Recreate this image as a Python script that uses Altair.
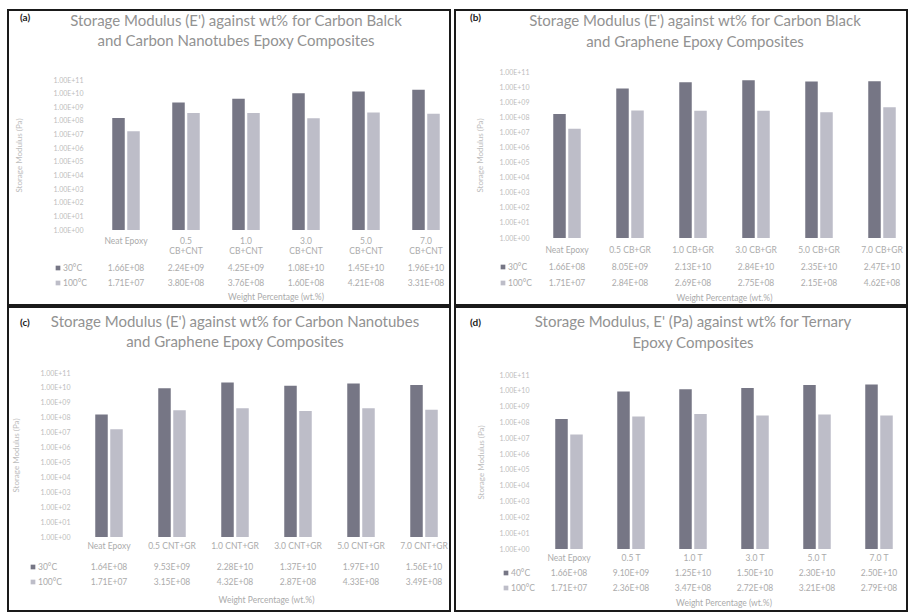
import altair as alt
import pandas as pd

# ---- data -------------------------------------------------------------
tags = ["(a)", "(b)", "(c)", "(d)"]

titles = [
    ["Storage Modulus (E') against wt% for Carbon Balck", "and Carbon Nanotubes Epoxy Composites"],
    ["Storage Modulus (E') against wt% for Carbon Black", "and Graphene Epoxy Composites"],
    ["Storage Modulus (E') against wt% for Carbon Nanotubes", "and Graphene Epoxy Composites"],
    ["Storage Modulus, E' (Pa) against wt% for Ternary", "Epoxy Composites"],
]

cats_a = ["Neat Epoxy", "0.5\nCB+CNT", "1.0\nCB+CNT", "3.0\nCB+CNT", "5.0\nCB+CNT", "7.0\nCB+CNT"]
cats_b = ["Neat Epoxy", "0.5 CB+GR", "1.0 CB+GR", "3.0 CB+GR", "5.0 CB+GR", "7.0 CB+GR"]
cats_c = ["Neat Epoxy", "0.5 CNT+GR", "1.0 CNT+GR", "3.0 CNT+GR", "5.0 CNT+GR", "7.0 CNT+GR"]
cats_d = ["Neat Epoxy", "0.5 T", "1.0 T", "3.0 T", "5.0 T", "7.0 T"]

temps_abc = ["30°C", "100°C"]
temps_d = ["40°C", "100°C"]

low_a = [1.66e8, 2.24e9, 4.25e9, 1.08e10, 1.45e10, 1.96e10]
high_a = [1.71e7, 3.80e8, 3.76e8, 1.60e8, 4.21e8, 3.31e8]

low_b = [1.66e8, 8.05e9, 2.13e10, 2.84e10, 2.35e10, 2.47e10]
high_b = [1.71e7, 2.84e8, 2.69e8, 2.75e8, 2.15e8, 4.62e8]

low_c = [1.64e8, 9.53e9, 2.28e10, 1.37e10, 1.97e10, 1.56e10]
high_c = [1.71e7, 3.15e8, 4.32e8, 2.87e8, 4.33e8, 3.49e8]

low_d = [1.66e8, 9.10e9, 1.25e10, 1.50e10, 2.30e10, 2.50e10]
high_d = [1.71e7, 2.36e8, 3.47e8, 2.72e8, 3.21e8, 2.79e8]

y_ticks = [10.0 ** k for k in range(12)]

# ---- style ------------------------------------------------------------
FONT = "Lato"
TITLE_GREY = "#929292"
TEXT_GREY = "#ababab"
LABEL_GREY = "#bdbdbd"
BAR_COLORS = ["#767685", "#bdbdc8"]
BAR_W = 12.5          # width of each bar in a pair
BAR_SHIFT = 7.5       # offset of each bar from the category centre

# Panel geometry in page pixels.  Every panel's view fills its framed box,
# and the bars / axes are placed inside it through explicit scale ranges.
#   c0, step : centre of the first category and category step
#   ytop, ybot : pixel rows of 1E+11 and 1E+00
layouts = [
    dict(box=(8, 10, 450, 305), c0=126, step=60, ytop=80, ybot=230,
         tag=(20, 18), tcx=236, ty=(21, 41), ytx=23, ylr=83, cat=236,
         rows=(268, 283), key=58, xty=297),
    dict(box=(455, 10, 907, 305), c0=567, step=63, ytop=72, ybot=238,
         tag=(470, 18), tcx=695, ty=(21, 42), ytx=484, ylr=529, cat=245,
         rows=(267, 283), key=503, xty=298),
    dict(box=(8, 307, 450, 611), c0=109, step=63, ytop=373, ybot=537,
         tag=(20, 323), tcx=235, ty=(322, 342), ytx=20, ylr=70, cat=541,
         rows=(567, 582), key=33, xty=600),
    dict(box=(455, 307, 907, 611), c0=569, step=62, ytop=375, ybot=549,
         tag=(470, 323), tcx=693, ty=(322, 343), ytx=485, ylr=529, cat=553,
         rows=(573, 588), key=506, xty=603),
]

LOG_LABEL = (
    "format(datum.value / pow(10, round(log(datum.value) / LN10)), '.2f') + 'E+' + "
    "(round(log(datum.value) / LN10) < 10 ? '0' : '') + round(log(datum.value) / LN10)"
)


def panel(tag, title_lines, cats, temps, low, high, L):
    rows = []
    for series, vals in zip(temps, [low, high]):
        for c, v in zip(cats, vals):
            rows.append({"category": c, "series": series, "value": v, "label": f"{v:.2E}"})
    df = pd.DataFrame(rows)

    bl, bt, br, bb = L["box"]
    x0, y0 = bl + 2, bt + 2           # view origin just inside the frame
    w, h = br - bl - 4, bb - bt - 4

    # point-like band range: category centres at c0, c0 + step, ...
    pi = 0.5
    r0 = L["c0"] - L["step"] * (1 - pi) / 2 - x0
    r1 = r0 + L["step"] * (6 - pi)
    ybot, ytop = L["ybot"] - y0, L["ytop"] - y0

    one = pd.DataFrame({"k": [0]})
    color = alt.Color("series:N", scale=alt.Scale(domain=temps, range=BAR_COLORS), legend=None)

    xenc = alt.X(
        "category:N", sort=cats,
        scale=alt.Scale(range=[r0, r1], paddingInner=pi, paddingOuter=0),
        axis=alt.Axis(title=None, labelAngle=0, labelExpr="split(datum.label, '\\n')",
                      offset=ybot - h, labelPadding=L["cat"] - L["ybot"],
                      labelFontSize=8.5, labelColor=TEXT_GREY, labelFont=FONT,
                      labelBaseline="top"),
    )
    lab_pad = 2
    y_off = -(L["ylr"] - x0 + lab_pad)
    axis_x = x0 - y_off
    yenc = alt.Y(
        "value:Q", stack=None,
        scale=alt.Scale(type="log", domain=[1, 1e11], nice=False, range=[ybot, ytop]),
        axis=alt.Axis(values=y_ticks, labelExpr=LOG_LABEL, labelFontSize=7,
                      labelColor=LABEL_GREY, labelFont=FONT,
                      offset=y_off, labelPadding=lab_pad,
                      title="Storage Modulus (Pa)", titleFontSize=8,
                      titleColor=LABEL_GREY, titleFont=FONT, titleFontWeight="normal",
                      titleX=L["ytx"] - axis_x, titleY=(ybot + ytop) / 2),
    )

    frame = alt.Chart(one).mark_rect(fillOpacity=0, stroke="#1a1a1a", strokeWidth=2).encode(
        x=alt.value(-2), x2=alt.value(w + 2), y=alt.value(-2), y2=alt.value(h + 2),
    )

    layers = [frame]

    # one bar layer per temperature, side by side around the category centre
    for series, shift in zip(temps, [-BAR_SHIFT, BAR_SHIFT]):
        layers.append(
            alt.Chart(df).transform_filter(alt.datum.series == series)
            .mark_bar(width=BAR_W, xOffset=shift)
            .encode(x=xenc, y=yenc, y2=alt.value(ybot), color=color)
            .properties(width=w, height=h)
        )

    # data table under the axis
    for series, ry in zip(temps, L["rows"]):
        layers.append(
            alt.Chart(df).transform_filter(alt.datum.series == series)
            .mark_text(font=FONT, fontSize=8.5, color=TEXT_GREY, baseline="middle")
            .encode(x=xenc, y=alt.value(ry - y0), text="label:N")
        )
        key_df = pd.DataFrame({"series": [series]})
        layers.append(
            alt.Chart(key_df).mark_square(size=22, opacity=1).encode(
                x=alt.value(L["key"] - x0), y=alt.value(ry - y0), color=color)
        )
        layers.append(
            alt.Chart(key_df).mark_text(font=FONT, fontSize=8.5, color=TEXT_GREY,
                                        align="left", baseline="middle").encode(
                x=alt.value(L["key"] + 5 - x0), y=alt.value(ry - y0), text="series:N")
        )

    # x-axis title below the table
    layers.append(
        alt.Chart(pd.DataFrame({"t": ["Weight Percentage (wt.%)"]}))
        .mark_text(font=FONT, fontSize=8.5, color=TEXT_GREY, baseline="middle")
        .encode(x=alt.value((r0 + r1) / 2), y=alt.value(L["xty"] - y0), text="t:N")
    )

    # two-line chart title
    for line, ty in zip(title_lines, L["ty"]):
        layers.append(
            alt.Chart(pd.DataFrame({"t": [line]}))
            .mark_text(font=FONT, fontSize=15, color=TITLE_GREY, baseline="middle")
            .encode(x=alt.value(L["tcx"] - x0), y=alt.value(ty - y0), text="t:N")
        )

    # panel letter
    layers.append(
        alt.Chart(pd.DataFrame({"t": [tag]}))
        .mark_text(font=FONT, fontSize=10, fontWeight="bold", color="#222222",
                   align="left", baseline="middle")
        .encode(x=alt.value(L["tag"][0] - x0), y=alt.value(L["tag"][1] - y0), text="t:N")
    )

    return alt.layer(*layers)


pa = panel(tags[0], titles[0], cats_a, temps_abc, low_a, high_a, layouts[0])
pb = panel(tags[1], titles[1], cats_b, temps_abc, low_b, high_b, layouts[1])
pc = panel(tags[2], titles[2], cats_c, temps_abc, low_c, high_c, layouts[2])
pd_ = panel(tags[3], titles[3], cats_d, temps_d, low_d, high_d, layouts[3])

chart = (
    alt.vconcat(
        alt.hconcat(pa, pb, spacing=3),
        alt.hconcat(pc, pd_, spacing=3),
        spacing=0,
    )
    .properties(padding={"left": 7, "top": 9, "right": 0, "bottom": 0}, background="white")
    .configure_view(stroke=None)
    .configure_axis(domain=False, ticks=False, grid=False)
)

chart.save("out.html", embed_options={"renderer": "svg", "actions": False})
